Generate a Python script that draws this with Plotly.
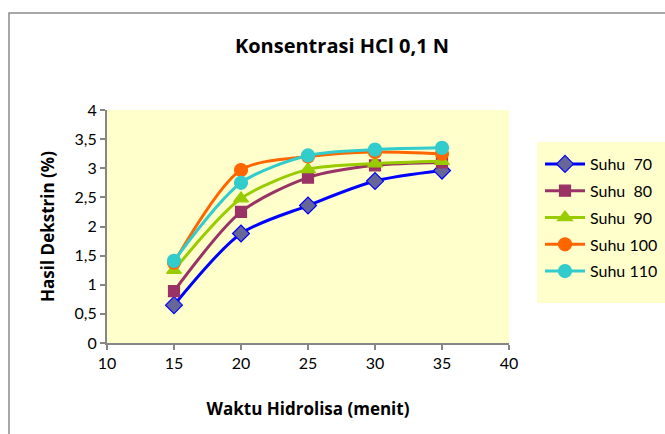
import plotly.graph_objects as go

waktu = [15, 20, 25, 30, 35]
suhu_70 = [0.65, 1.88, 2.36, 2.78, 2.96]
suhu_80 = [0.89, 2.25, 2.84, 3.05, 3.10]
suhu_90 = [1.25, 2.48, 2.98, 3.08, 3.12]
suhu_100 = [1.38, 2.97, 3.20, 3.28, 3.25]
suhu_110 = [1.41, 2.75, 3.22, 3.32, 3.35]

series = [
    ("Suhu  70", suhu_70, "#0000FF", "diamond", "#666699", "#0000FF", 13),
    ("Suhu  80", suhu_80, "#993366", "square", "#993366", "#993366", 11),
    ("Suhu  90", suhu_90, "#99CC00", "triangle-up", "#99CC00", "#99CC00", 13),
    ("Suhu 100", suhu_100, "#FF6600", "circle", "#FF6600", "#FF6600", 13),
    ("Suhu 110", suhu_110, "#33CCCC", "circle", "#33CCCC", "#33CCCC", 13),
]

FONT = "Lato, 'Open Sans', sans-serif"
BFONT = "'Open Sans', Lato, sans-serif"

fig = go.Figure()
for i, (name, vals, lc, sym, mfill, mline, msize) in enumerate(series):
    fig.add_trace(go.Scatter(
        x=waktu, y=vals, name=name, mode="lines+markers",
        line=dict(color=lc, width=3, shape="spline", smoothing=0.8),
        marker=dict(symbol=sym, size=msize, color=mfill,
                    line=dict(color=mline, width=1.2)),
        legendgroup=f"g{i}",
    ))

W, H = 665, 434
L, T = 107, 110
RIGHT, BOTTOM = 509, 343
R = W - RIGHT
B = H - BOTTOM
pw = W - L - R
ph = H - T - B

def px_x(p):
    return (p - L) / pw

def px_y(p):
    return (H - B - p) / ph

fig.update_layout(
    width=W, height=H,
    margin=dict(l=L, r=R, t=T, b=B, autoexpand=False),
    paper_bgcolor="white",
    plot_bgcolor="#FFFFCC",
    separators=",.",
    font=dict(family=FONT, size=15, color="black"),
    title=dict(text="<b>Konsentrasi HCl 0,1 N</b>", xref="container",
               x=342 / W, xanchor="center", yref="container",
               y=1 - 46 / H, yanchor="middle",
               font=dict(family=BFONT, size=20, color="black")),
    showlegend=True,
    legend=dict(x=px_x(540), y=px_y(147), xanchor="left", yanchor="top",
                bgcolor="rgba(0,0,0,0)", font=dict(family=FONT, size=16),
                tracegroupgap=3, traceorder="grouped", itemwidth=40),
    xaxis=dict(range=[10, 40], tickmode="linear", tick0=10, dtick=5,
               showgrid=False, zeroline=False, showline=True,
               linecolor="#868686", linewidth=2, ticks="outside",
               ticklen=5, tickcolor="#868686", tickwidth=2,
               tickfont=dict(family=FONT, size=16),
               title=dict(text="<b>Waktu Hidrolisa (menit)</b>", standoff=32,
                          font=dict(family=BFONT, size=17))),
    yaxis=dict(range=[0, 4], tickmode="linear", tick0=0, dtick=0.5,
               showgrid=False, zeroline=False, showline=True,
               linecolor="#868686", linewidth=2, ticks="outside",
               ticklen=5, tickcolor="#868686", tickwidth=2,
               tickfont=dict(family=FONT, size=16),
               title=dict(text="<b>Hasil Dekstrin (%)</b>", standoff=16,
                          font=dict(family=BFONT, size=17))),
    shapes=[
        dict(type="rect", xref="paper", yref="paper",
             x0=px_x(537), x1=px_x(680), y0=px_y(303), y1=px_y(142),
             fillcolor="#FFFFCC", line=dict(width=0), layer="below"),
        dict(type="rect", xref="paper", yref="paper",
             x0=px_x(9), x1=px_x(690), y0=px_y(460), y1=px_y(13),
             fillcolor="rgba(0,0,0,0)", line=dict(color="#8C8C8C", width=1.5),
             layer="below"),
    ],
)

fig.write_html(
    "out.html",
    config={"displayModeBar": False},
    post_script="document.body.style.margin='0';document.body.style.overflow='hidden';",
)
